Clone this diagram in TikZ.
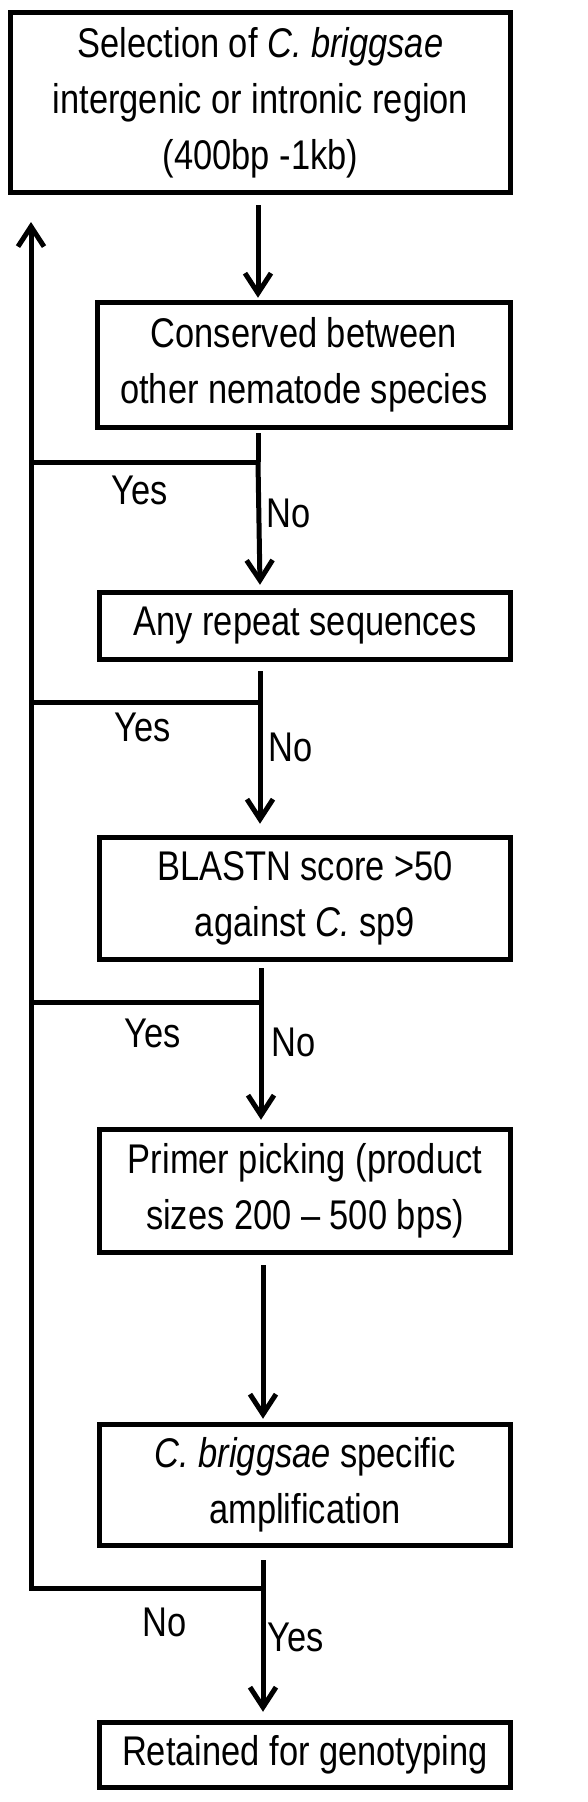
\documentclass[tikz,border=0pt]{standalone}
\usepackage{fontspec}
\setmainfont[FakeStretch=0.83]{Liberation Sans}
\usetikzlibrary{arrows.meta}
\begin{document}
\begin{tikzpicture}[x=1pt,y=-1pt,
  box/.style={draw=black,line width=5.5pt,align=center,inner sep=0pt,
    font=\fontsize{41.5}{56}\selectfont,text=black},
  lbl/.style={font=\fontsize{41.5}{47}\selectfont,inner sep=0pt},
  conn/.style={line width=5pt,black},
  arr/.style={conn,-{Straight Barb[length=20pt,width=26pt,line width=5pt]}}]
\useasboundingbox (0,0) rectangle (588,1802);
\fill[white] (0,0) rectangle (588,1802);
% boxes
\node[box,minimum width=500pt,minimum height=180pt] (b1) at (260.5,102.5)
  {Selection of \textit{C. briggsae}\\intergenic or intronic region\\(400bp -1kb)};
\node[box,minimum width=413pt,minimum height=125pt] (b2) at (304,365)
  {Conserved between\\other nematode species};
\node[box,minimum width=411pt,minimum height=67pt] (b3) at (305,626)
  {Any repeat sequences};
\node[box,minimum width=411pt,minimum height=122pt] (b4) at (305,898.5)
  {BLASTN score \textgreater50\\against \textit{C.} sp9};
\node[box,minimum width=411pt,minimum height=123pt] (b5) at (305,1191)
  {Primer picking (product\\sizes 200 -- 500 bps)};
\node[box,minimum width=411pt,minimum height=121pt] (b6) at (305,1485)
  {\textit{C. briggsae} specific\\amplification};
\node[box,minimum width=411pt,minimum height=65pt] (b7) at (305,1755)
  {Retained for genotyping};
% junction coordinates
\coordinate (j1) at (258,462);
\coordinate (j2) at (260,702);
\coordinate (j3) at (261,1002);
\coordinate (j4) at (263,1588);
\coordinate (top) at (31,222);
% main flow
\draw[arr] ([yshift=-10pt]b1.south -| j1) -- ([yshift=2pt]b2.north -| j1);
\draw[conn] ([yshift=-3pt]b2.south -| j1) -- (j1);
\draw[arr] (j1) -- ([yshift=5pt]b3.north -| j2);
\draw[conn] ([yshift=-9pt]b3.south -| j2) -- (j2);
\draw[arr] (j2) -- ([yshift=11pt]b4.north -| j2);
\draw[conn] ([yshift=-6pt]b4.south -| j3) -- (j3);
\draw[arr] (j3) -- ([yshift=7pt]b5.north -| j3);
\draw[arr] ([yshift=-10pt]b5.south -| j4) -- ([yshift=3pt]b6.north -| j4);
\draw[conn] ([yshift=-12pt]b6.south -| j4) -- (j4);
\draw[arr] (j4) -- ([yshift=8pt]b7.north -| j4);
% feedback loop
\draw[conn] (j1) -- (j1 -| top);
\draw[conn] (j2) -- (j2 -| top);
\draw[conn] (j3) -- (j3 -| top);
\draw[arr] (j4) -- (j4 -| top) -- (top);
% labels
\node[lbl] (y1) at (140,490) {Yes};
\node[lbl] (n1) at (289,513) {No};
\node[lbl] (y2) at (143,727) {Yes};
\node[lbl] (n2) at (291,747) {No};
\node[lbl] (y3) at (153,1033) {Yes};
\node[lbl] (n3) at (294,1042) {No};
\node[lbl] (n4) at (165,1622) {No};
\node[lbl] (y4) at (296,1637) {Yes};
\end{tikzpicture}
\end{document}
